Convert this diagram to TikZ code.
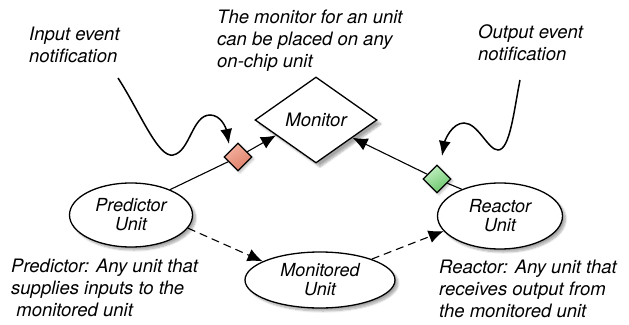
\documentclass[tikz,border=0pt]{standalone}
\usepackage{fontspec}
\setmainfont{TeX Gyre Heros}
\usetikzlibrary{shapes.geometric,arrows.meta,shadows.blur}
\definecolor{pinkA}{RGB}{244,178,160}
\definecolor{pinkB}{RGB}{222,126,104}
\definecolor{greenA}{RGB}{196,240,196}
\definecolor{greenB}{RGB}{104,196,104}
\tikzset{
  txt/.style={font=\fontsize{18.5}{22}\selectfont\itshape, inner sep=0pt, align=left, anchor=base west},
  unit/.style={ellipse, draw=black, line width=1.3pt, fill=white, inner sep=0pt,
    font=\fontsize{18}{21}\selectfont\itshape, align=center,
    blur shadow={shadow xshift=3pt, shadow yshift=-3pt, shadow blur steps=8, shadow opacity=35}},
  mon/.style={diamond, draw=black, line width=1.3pt, fill=white, inner sep=0pt,
    minimum width=122pt, minimum height=86pt, font=\fontsize{18.5}{21}\selectfont\itshape,
    blur shadow={shadow xshift=4pt, shadow yshift=-4pt, shadow blur steps=8, shadow opacity=35}},
  evt/.style={diamond, draw=black, line width=1.3pt, inner sep=0pt, minimum width=28pt, minimum height=28pt,
    blur shadow={shadow xshift=2pt, shadow yshift=-2pt, shadow blur steps=5, shadow opacity=25}},
  conn/.style={line width=1.1pt},
  arr/.style={-{Latex[length=15pt,width=13pt]}},
  curvy/.style={line width=1.5pt, -{Latex[length=15pt,width=12pt]}}
}
\begin{document}
\begin{tikzpicture}[x=1pt,y=-1pt]
\useasboundingbox (0,0) rectangle (629,324);
% main nodes
\node[mon] (monitor) at (316,120) {Monitor};
\node[unit, minimum width=123pt, minimum height=64pt] (pred) at (131,215) {Predictor\\[-2pt]Unit};
\node[unit, minimum width=125pt, minimum height=66pt] (react) at (500,216) {Reactor\\[-2pt]Unit};
\node[unit, minimum width=150pt, minimum height=56pt] (mond) at (320,280) {Monitored\\[-2pt]Unit};
\node[evt, top color=pinkA, bottom color=pinkB, shading angle=30] (inev) at (238,157) {};
\node[evt, top color=greenA, bottom color=greenB, shading angle=30] (outev) at (437,179) {};
% connectors
\draw[conn] (pred.33) -- (inev);
\draw[conn, arr] (inev) -- (monitor.201);
\draw[conn] (react.145) -- (outev);
\draw[conn, arr] (outev) -- (monitor.-26);
\draw[conn, arr, dashed, dash pattern=on 8pt off 5pt] (pred.-13) -- (mond.162);
\draw[conn, arr, dashed, dash pattern=on 8pt off 5pt] (mond.22) -- (react.195);
% curvy notification arrows
\coordinate (instart) at (118,78);
\coordinate (intip) at (229,144);
\coordinate (outstart) at (520,80);
\coordinate (outtip) at (442,156);
\draw[curvy] (instart) .. controls (140,112) and (158,158) .. (173,155)
  .. controls (190,152) and (192,115) .. (210,115)
  .. controls (221,115) and (226,128) .. (intip);
\draw[curvy] (outstart) .. controls (514,110) and (510,150) .. (498,150)
  .. controls (488,150) and (478,123) .. (464,123)
  .. controls (452,123) and (445,140) .. (outtip);
% annotations (anchored at the baseline of the last line)
\node[txt] (tin) at (29,62) {Input event\\notification};
\node[txt] (tmon) at (217,67) {The monitor for an unit\\can be placed on any\\on-chip unit};
\node[txt] (tout) at (478,60) {Output event\\notification};
\node[txt] (tpred) at (11,316) {Predictor: Any unit that\\supplies inputs to the\\\ monitored unit};
\node[txt] (treact) at (439,317) {Reactor: Any unit that\\receives output from\\the monitored unit};
\end{tikzpicture}
\end{document}
